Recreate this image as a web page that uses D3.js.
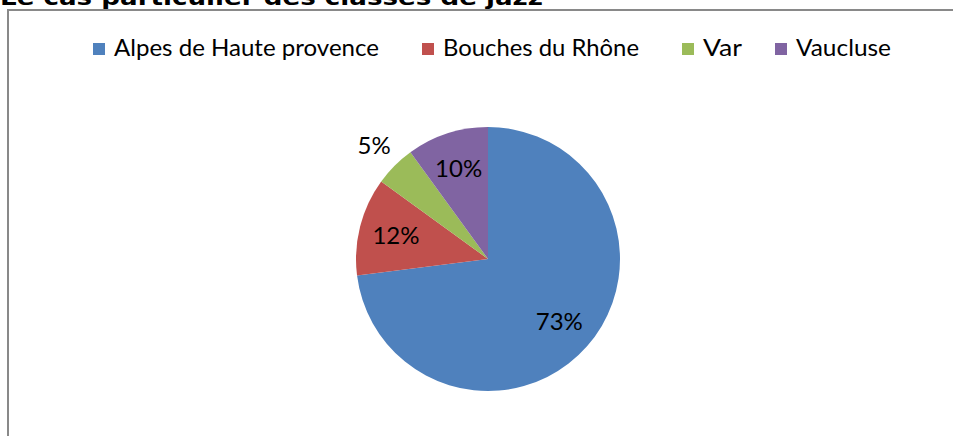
<!DOCTYPE html>
<html>
<head>
<meta charset="utf-8">
<script src="https://cdn.jsdelivr.net/npm/d3@7"></script>
<style>
  body { margin: 0; background: #fff; }
  svg { display: block; }
</style>
</head>
<body>
<svg id="chart" width="953" height="436"></svg>
<script>
const title = "Le cas particulier des classes de jazz";
const categories = ["Alpes de Haute provence", "Bouches du Rhône", "Var", "Vaucluse"];
const values = [73, 12, 5, 10];
const colors = ["#4F81BD", "#C0504D", "#9BBB59", "#8064A2"];

const svg = d3.select("#chart");
const W = 953, H = 436;

// title, cut off by the top of the page
svg.append("text").attr("x", 0).attr("y", 5)
    .attr("font-family", "DejaVu Sans").attr("font-weight", "bold").attr("font-size", 21)
    .attr("fill", "#000").attr("textLength", 543).attr("lengthAdjust", "spacingAndGlyphs")
    .text(title);

// chart area border
svg.append("rect").attr("x", 8).attr("y", 10).attr("width", W + 20).attr("height", H + 20)
    .attr("fill", "none").attr("stroke", "#898989").attr("stroke-width", 2);

// legend
const legendX = [93, 422, 682, 775];
const legendW = [265, 196, 39, 95];
const legend = svg.append("g");
categories.forEach((c, i) => {
    legend.append("rect").attr("x", legendX[i]).attr("y", 43).attr("width", 12).attr("height", 12)
        .attr("fill", colors[i]);
    legend.append("text").attr("x", legendX[i] + 21).attr("y", 56)
        .attr("font-family", "Lato").attr("font-size", 23).attr("fill", "#000")
        .attr("textLength", legendW[i]).attr("lengthAdjust", "spacingAndGlyphs")
        .text(c);
});

// pie
const cx = 488, cy = 259, r = 132;
const total = d3.sum(values);
const pie = d3.pie().sort(null).value(d => d);
const arcs = pie(values);
const arc = d3.arc().innerRadius(0).outerRadius(r);
const labelArc = d3.arc().innerRadius(r * 0.72).outerRadius(r * 0.72);
const outerArc = d3.arc().innerRadius(r * 1.22).outerRadius(r * 1.22);

const g = svg.append("g").attr("transform", `translate(${cx},${cy})`);
g.selectAll("path").data(arcs).join("path")
    .attr("d", arc).attr("fill", (d, i) => colors[i]);

g.selectAll("text").data(arcs).join("text")
    .attr("transform", d => `translate(${(d.value / total < 0.07 ? outerArc : labelArc).centroid(d)})`)
    .attr("text-anchor", "middle").attr("dy", "0.36em")
    .attr("font-family", "Lato").attr("font-size", 24).attr("fill", "#000")
    .text(d => Math.round(d.value / total * 100) + "%");
</script>
</body>
</html>
